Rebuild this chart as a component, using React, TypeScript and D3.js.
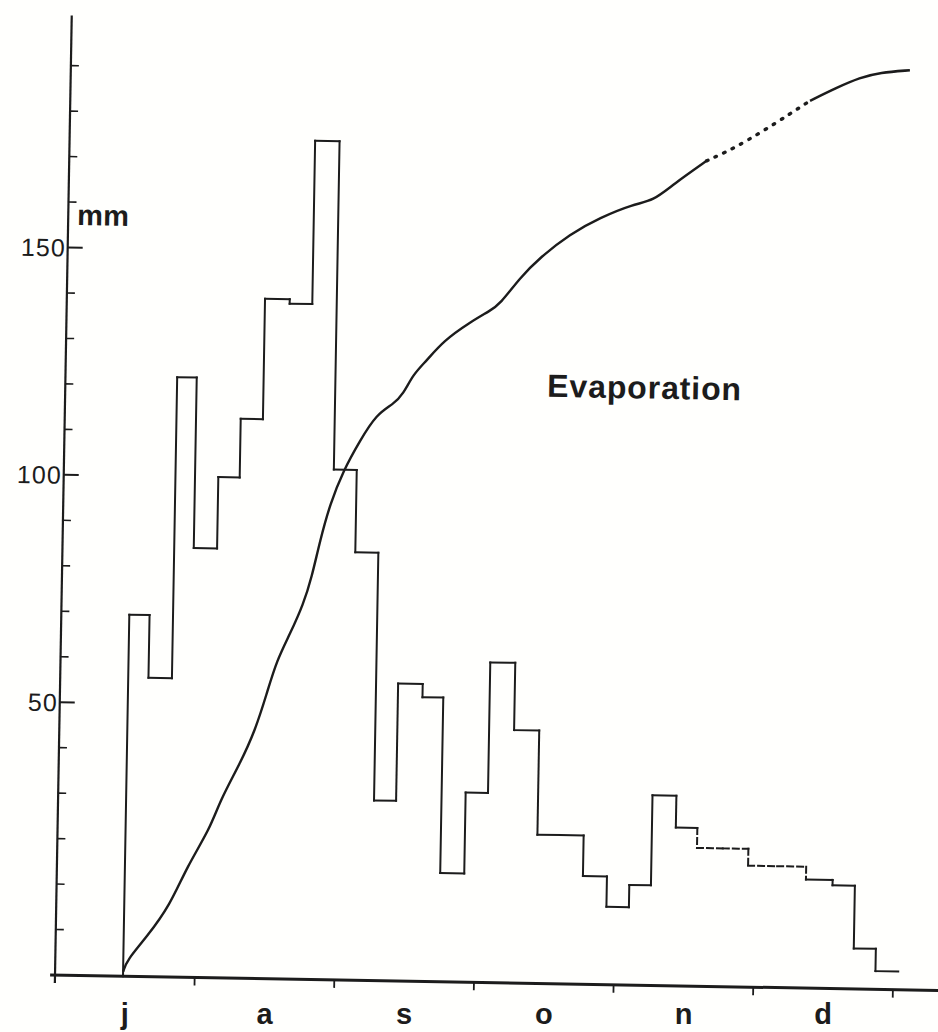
import { scaleLinear, line, curveBasis } from 'd3'

// x unit: months since 1 July (0 = 1 July, 6 = 1 January); y unit: mm
const monthLabels = ['j', 'a', 's', 'o', 'n', 'd']
const monthTicks = [0, 1, 2, 3, 4, 5, 6]
const yLabelTicks = [50, 100, 150]
const yMinorTicks = [0, 10, 20, 30, 40, 60, 70, 80, 90, 110, 120, 130, 140, 160, 170, 180, 190]

// rainfall per ~5-day period (step outline), period boundaries in months
const rainEdges = [
  0.487, 0.632, 0.8, 0.94, 1.107, 1.26, 1.419, 1.596, 1.758, 1.933, 2.097, 2.262, 2.42, 2.596, 2.745,
  2.917, 3.077, 3.256, 3.436, 3.6, 3.767, 3.939, 4.1, 4.255, 4.426, 4.58, 4.765, 4.948, 5.156, 5.364,
  5.555, 5.715, 5.873, 6.036,
]
const rainMm = [
  69.5, 55.7, 121.9, 84.4, 100.1, 113.0, 139.5, 138.5, 174.4, 102.2, 84.1, 29.6, 55.4, 52.5, 13.9,
  31.7, 60.4, 45.6, 22.7, 22.7, 13.8, 7.1, 12.0, 31.8, 24.8, 20.4, 20.4, 16.7, 16.7, 13.9, 12.7, -1.1,
  -6.0,
]
// periods drawn dashed in the original (estimated)
const rainEstimated = [
  false, false, false, false, false, false, false, false, false, false, false, false, false, false,
  false, false, false, false, false, false, false, false, false, false, false, true, true, true, true,
  false, false, false, false,
]

// cumulative evaporation curve
const evapMonth = [
  0.488, 0.512, 0.652, 0.815, 0.929, 1.092, 1.16, 1.298, 1.402, 1.48, 1.548, 1.64, 1.732, 1.788, 1.843,
  1.91, 2.001, 2.117, 2.233, 2.351, 2.421, 2.49, 2.584, 2.701, 2.889, 3.031, 3.102, 3.242, 3.382, 3.594,
  3.807, 4.044, 4.186, 4.327, 4.563, 4.823, 5.296, 5.485, 5.651, 5.793, 6.007,
]
const evapMm = [
  -9, -6.5, -1.3, 5.8, 14.2, 22.8, 29.0, 37.2, 44.5, 52.6, 60.0, 65.9, 72.5, 78.4, 86.5, 94.6, 102.0,
  108.7, 114.6, 116.8, 119.1, 123.5, 126.5, 130.9, 135.1, 137.7, 139.2, 145.1, 149.6, 154.9, 158.6,
  161.7, 162.5, 166.2, 171.5, 175.3, 185.1, 188.1, 190.4, 191.6, 192.2,
]
// stretch of the curve drawn dotted
const evapDottedFrom = 4.563
const evapDottedTo = 5.296

const W = 938
const H = 1032
const INK = '#1c1c1c'
const FONT = '"Liberation Sans", Arial, Helvetica, sans-serif'

export default function App() {
  const x = scaleLinear().domain([0, 6]).range([0, 838])
  const y = scaleLinear().domain([-10, 200]).range([0, -955])
  const base = y.domain()[0]

  const segs: { x1: number; x2: number; y1: number; y2: number; dashed: boolean }[] = []
  rainMm.forEach((v, i) => {
    const x0 = x(rainEdges[i])
    const x1 = x(rainEdges[i + 1])
    const prev = i === 0 ? base : rainMm[i - 1]
    const est = rainEstimated[i] || (i > 0 && rainEstimated[i - 1])
    if (prev !== v) segs.push({ x1: x0, x2: x0, y1: y(prev), y2: y(v), dashed: est })
    segs.push({ x1: x0, x2: x1, y1: y(v), y2: y(v), dashed: rainEstimated[i] })
  })

  const pts = evapMonth.map((m, i) => [m, evapMm[i]] as [number, number])
  const solidA = pts.filter((p) => p[0] <= evapDottedFrom)
  const dotted = pts.filter((p) => p[0] >= evapDottedFrom && p[0] <= evapDottedTo)
  const solidB = pts.filter((p) => p[0] >= evapDottedTo)
  const evapLine = line<[number, number]>()
    .x((d) => x(d[0]))
    .y((d) => y(d[1]))
    .curve(curveBasis)

  return (
    <svg
      width={W}
      height={H}
      viewBox={`0 0 ${W} ${H}`}
      style={{ position: 'absolute', left: 0, top: 0, background: '#fff' }}
    >
      <rect width={W} height={H} fill="#fffffd" />
      {/* the scanned figure sits about 1 degree off square */}
      <g transform="translate(55,975) rotate(1)" fontFamily={FONT} fill={INK}>
        {/* y axis */}
        <line x1={0} x2={0} y1={8} y2={y(201)} stroke={INK} strokeWidth={2.2} />
        {yMinorTicks.map((t) => (
          <line key={t} x1={0} x2={8} y1={y(t)} y2={y(t)} stroke={INK} strokeWidth={1.6} />
        ))}
        {yLabelTicks.map((t) => (
          <g key={t}>
            <line x1={0} x2={15} y1={y(t)} y2={y(t)} stroke={INK} strokeWidth={2} />
            <text x={-2} y={y(t)} dy="0.36em" textAnchor="end" fontSize={25} letterSpacing={1}>
              {t}
            </text>
          </g>
        ))}
        <text x={9} y={y(155)} fontSize={29} fontWeight="bold">
          mm
        </text>

        {/* x axis */}
        <line x1={x(-0.035)} x2={x(6.4)} y1={0} y2={0} stroke={INK} strokeWidth={3} />
        {monthTicks.map((t) => (
          <line key={t} x1={x(t)} x2={x(t)} y1={0} y2={8} stroke={INK} strokeWidth={1.8} />
        ))}

        {/* rainfall step outline */}
        {segs.map((s, i) => (
          <line
            key={i}
            x1={s.x1}
            x2={s.x2}
            y1={s.y1}
            y2={s.y2}
            stroke={INK}
            strokeWidth={2}
            strokeDasharray={s.dashed ? '6,4' : undefined}
            strokeLinecap="square"
          />
        ))}

        {/* evaporation */}
        <path d={evapLine(solidA) ?? ''} fill="none" stroke={INK} strokeWidth={2.4} />
        <path
          d={evapLine(dotted) ?? ''}
          fill="none"
          stroke={INK}
          strokeWidth={3.4}
          strokeDasharray="1.5,8"
          strokeLinecap="round"
        />
        <path d={evapLine(solidB) ?? ''} fill="none" stroke={INK} strokeWidth={2.6} />
        <text x={x(3.45)} y={y(119)} fontSize={32} fontWeight="bold" letterSpacing={0.9}>
          Evaporation
        </text>
      </g>

      {/* month letters sit level under the tilted axis */}
      <g transform="translate(55,0)" fontFamily={FONT} fill={INK}>
        {monthLabels.map((l, i) => (
          <text key={l} x={x(i + 0.5)} y={1024} textAnchor="middle" fontSize={29} fontWeight="bold">
            {l}
          </text>
        ))}
      </g>
    </svg>
  )
}
